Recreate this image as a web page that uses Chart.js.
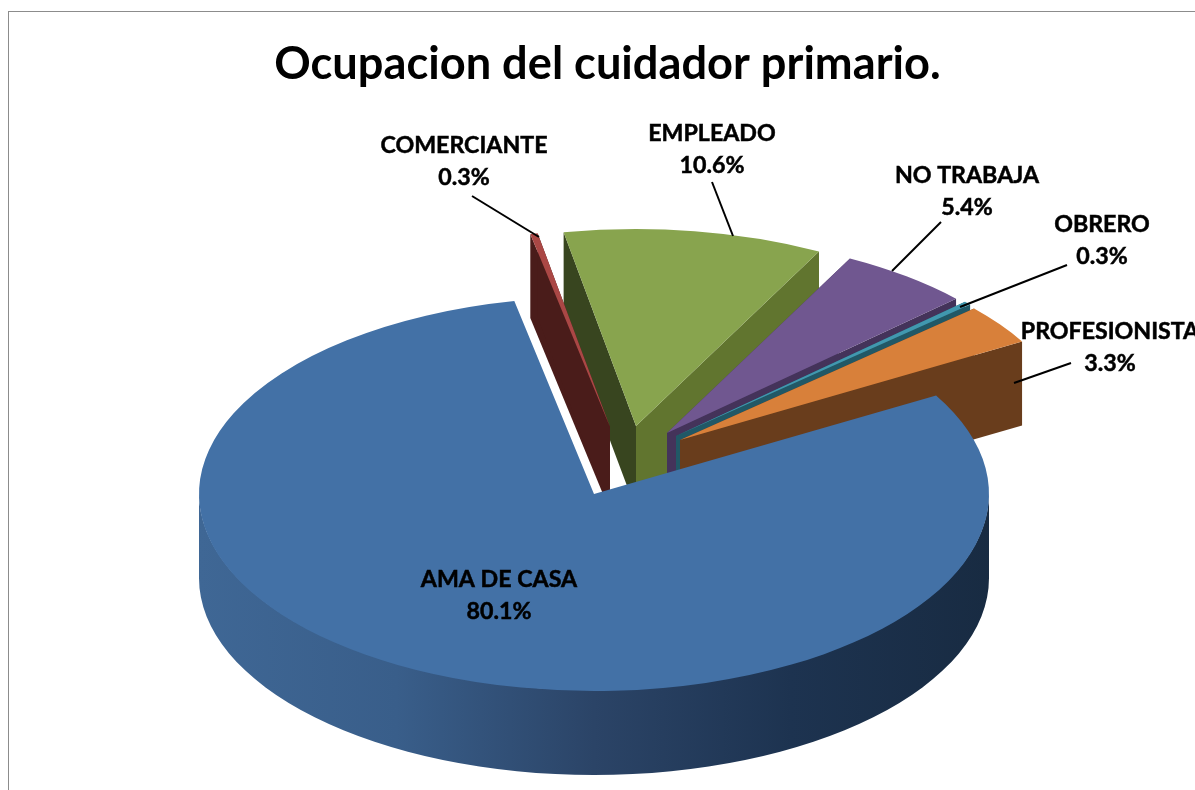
<!DOCTYPE html>
<html>
<head>
<meta charset="utf-8">
<script src="https://cdn.jsdelivr.net/npm/chart.js@4/dist/chart.umd.js"></script>
<style>
html,body{margin:0;padding:0;background:#fff;overflow:hidden;width:1195px;height:790px}
#frame{position:absolute;left:8px;top:11px;width:1400px;height:1000px;border:1.5px solid #8c8c8c;box-sizing:border-box}
canvas{position:absolute;left:0;top:0}
</style>
</head>
<body>
<div id="frame"></div>
<canvas id="c" width="1195" height="790"></canvas>
<script>
const categories = ['AMA DE CASA','COMERCIANTE','EMPLEADO','NO TRABAJA','OBRERO','PROFESIONISTA'];
const percentages = [80.1,0.3,10.6,5.4,0.3,3.3];

const topColors = ['#4371A6','#AA4745','#88A44E','#705790','#4198AF','#D8803A'];
const startFaceColors = ['#2A4566','#4A1C1A','#38451F','#44335A','#215866','#693D1C'];
const endFaceColors = ['#2A4566','#4A1C1A','#61752F','#44335A','#215866','#693D1C'];
const explodeX = [0,16,42,73,82,86];
const explodeY = [0,-66,-67,-60,-57,-53];
const drawOrder = [2,3,4,5,1,0];
const labelCenterX = [499,464,712,967,1102,1110];
const labelCenterY = [596,162,150,192,241,348];
const leaderLines = [null,[472,196,539,237],[712,182,733,236],[941,222,892,271],[1067,265,960,307],[1071,363,1014,383]];

const PIE_X = 594, PIE_Y = 494, RADIUS = 395, SQUASH = 197/395, DEPTH = 84;

function wallGradient(ctx){
  const g = ctx.createLinearGradient(PIE_X-RADIUS,0,PIE_X+RADIUS,0);
  g.addColorStop(0,'#3F6795');
  g.addColorStop(0.25,'#395E8A');
  g.addColorStop(0.5,'#2B4467');
  g.addColorStop(0.75,'#1D3350');
  g.addColorStop(1,'#182B42');
  return g;
}

const pie3d = {
  id:'pie3d',
  beforeDatasetsDraw(chart){
    const ctx = chart.ctx;
    const arcs = chart.getDatasetMeta(0).data;
    drawOrder.forEach(i=>{
      const a = arcs[i];
      const cx = PIE_X+explodeX[i], cy = PIE_Y+explodeY[i]-(i===0?0:1);
      const rx = a.outerRadius, ry = a.outerRadius*SQUASH;
      const rim = t=>[cx+Math.cos(t)*rx, cy+Math.sin(t)*ry];
      const face = (t,color)=>{
        const p = rim(t);
        ctx.beginPath();
        ctx.moveTo(cx,cy);ctx.lineTo(p[0],p[1]);ctx.lineTo(p[0],p[1]+DEPTH);ctx.lineTo(cx,cy+DEPTH);ctx.closePath();
        ctx.fillStyle=color;ctx.fill();
      };
      if(explodeX[i]!==0){
        face(a.startAngle,startFaceColors[i]);
        face(a.endAngle,endFaceColors[i]);
      }
      const from = Math.max(a.startAngle,0), to = Math.min(a.endAngle,Math.PI);
      if(to>from){
        ctx.beginPath();
        ctx.ellipse(cx,cy-1,rx,ry,0,from,to,false);
        ctx.ellipse(cx,cy+DEPTH,rx,ry,0,to,from,true);
        ctx.closePath();
        ctx.fillStyle = i===0 ? wallGradient(ctx) : startFaceColors[i];
        ctx.fill();
      }
      ctx.save();
      ctx.translate(cx,cy);
      ctx.scale(1,SQUASH);
      ctx.translate(-a.x,-a.y);
      a.draw(ctx);
      ctx.restore();
    });
    return false;
  },
  afterDraw(chart){
    const ctx = chart.ctx;
    ctx.save();
    ctx.strokeStyle='#000';ctx.lineWidth=2;
    leaderLines.forEach(l=>{
      if(!l)return;
      ctx.beginPath();ctx.moveTo(l[0],l[1]);ctx.lineTo(l[2],l[3]);ctx.stroke();
    });
    ctx.fillStyle='#000';
    ctx.lineWidth=0.5;
    ctx.font='bold 23.2px Lato';
    ctx.textAlign='center';ctx.textBaseline='middle';
    const put=(s,x,y)=>{ctx.fillText(s,x,y);ctx.strokeText(s,x,y);};
    categories.forEach((name,i)=>{
      put(name,labelCenterX[i],labelCenterY[i]-16);
      put(percentages[i].toFixed(1)+'%',labelCenterX[i],labelCenterY[i]+16);
    });
    ctx.restore();
  }
};

new Chart(document.getElementById('c'),{
  type:'pie',
  data:{labels:categories,datasets:[{data:percentages,backgroundColor:topColors,borderWidth:0,radius:RADIUS,clip:false}]},
  options:{
    responsive:false,
    animation:false,
    rotation:60,
    radius:RADIUS,
    layout:{padding:{left:20}},
    plugins:{
      legend:{display:false},
      tooltip:{enabled:false},
      title:{display:true,text:'Ocupacion del cuidador primario.',color:'#000',font:{family:'Lato',size:45.2,weight:'bold'},padding:{top:37,bottom:0}}
    }
  },
  plugins:[pie3d]
});
</script>
</body>
</html>
